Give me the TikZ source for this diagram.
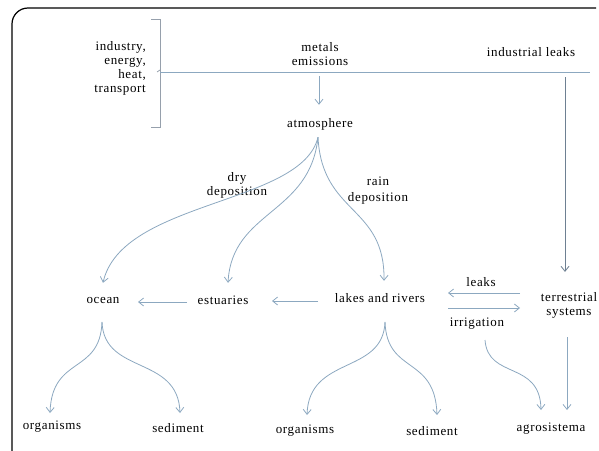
\documentclass[tikz,border=0pt]{standalone}
\usepackage{fontspec}
\setmainfont{Liberation Serif}[LetterSpace=5]
\usetikzlibrary{arrows.meta}
\definecolor{arrc}{RGB}{140,168,192}
\definecolor{darkc}{RGB}{110,128,146}
\definecolor{brkc}{RGB}{150,160,172}
\tikzset{
  lbl/.style={inner sep=2pt, text height=9pt, text depth=3pt, font=\fontsize{13}{14}\selectfont},
  mlbl/.style={inner sep=2pt, align=center, font=\fontsize{13}{14}\selectfont},
  arr/.style={draw=arrc, line width=0.8pt, -{Straight Barb[length=5pt,width=8pt]}},
  plain/.style={draw=arrc, line width=0.8pt},
}
\begin{document}
\begin{tikzpicture}[x=1pt,y=-1pt]
\useasboundingbox (0,0) rectangle (599,450);
% frame
\draw[line width=1.2pt, rounded corners=16pt] (28,466) -- (12,466) -- (12,8) -- (596,8);
% bracket
\draw[brkc, line width=0.8pt] (151,19) -- (160,19) -- (160,127) -- (151,127);
\draw[brkc, line width=0.8pt] (157,72) -- (160,70);
\coordinate (brk) at (160,72);
\coordinate (hend) at (590,72);
\draw[plain] (brk) -- (hend);
\node[mlbl, align=right, anchor=east] (src) at (148,68) {industry,\\energy,\\heat,\\transport};
% nodes
\node[mlbl] (metals) at (320,54) {metals\\emissions};
\node[lbl] (indl) at (531,53) {industrial leaks};
\node[lbl] (atm) at (320,124) {atmosphere};
\node[lbl] (ocean) at (103,300) {ocean};
\node[lbl] (est) at (223,301) {estuaries};
\node[lbl] (lakes) at (380,299) {lakes and rivers};
\node[mlbl] (terr) at (569,305) {terrestrial\\systems};
\node[lbl] (org1) at (52,426) {organisms};
\node[lbl] (sed1) at (178,429) {sediment};
\node[lbl] (org2) at (305,430) {organisms};
\node[lbl] (sed2) at (432,432) {sediment};
\node[lbl] (agro) at (551,428) {agrosistema};
\node[mlbl] (dry) at (237,185) {dry\\deposition};
\node[mlbl] (rain) at (378,191) {rain\\[2pt]deposition};
\node[lbl] (leaksl) at (481,283) {leaks};
\node[lbl] (irrl) at (477,323) {irrigation};
% connectors
\coordinate (ilt) at (565,77);
\draw[arr] ([xshift=-1pt,yshift=-8pt]metals.south) -- ([xshift=-1pt,yshift=11pt]atm.north);
\draw[arr, draw=darkc] (ilt) -- ([xshift=-4pt,yshift=18pt]terr.north);
\draw[arr] ([xshift=-2pt,yshift=-5pt]atm.south) .. controls (302,205) and (122,200) .. ([yshift=9pt]ocean.north);
\draw[arr] ([xshift=-2pt,yshift=-5pt]atm.south) .. controls (310,215) and (232,210) .. ([xshift=5pt,yshift=10pt]est.north);
\draw[arr] ([xshift=-2pt,yshift=-5pt]atm.south) .. controls (322,215) and (385,205) .. ([xshift=4pt,yshift=10pt]lakes.north);
\draw[arr] ([xshift=-36pt,yshift=-1pt]est.center) -- ([xshift=35pt,yshift=-2pt]ocean.center);
\draw[arr] ([xshift=-62pt,yshift=-2pt]lakes.center) -- ([xshift=49pt]est.center);
\draw[arr] ([xshift=-49pt,yshift=12pt]terr.center) -- ([xshift=68pt,yshift=6pt]lakes.center);
\draw[arr] ([xshift=68pt,yshift=-9pt]lakes.center) -- ([xshift=-49pt,yshift=-3pt]terr.center);
% ocean split
\draw[arr] ([xshift=-1pt,yshift=-22pt]ocean.center) .. controls (100,375) and (52,355) .. ([xshift=-2pt,yshift=13pt]org1.center);
\draw[arr] ([xshift=-1pt,yshift=-22pt]ocean.center) .. controls (104,375) and (178,355) .. ([xshift=2pt,yshift=16pt]sed1.center);
% lakes split
\draw[arr] ([xshift=5pt,yshift=-23pt]lakes.center) .. controls (383,375) and (309,355) .. ([xshift=2pt,yshift=15pt]org2.center);
\draw[arr] ([xshift=5pt,yshift=-23pt]lakes.center) .. controls (387,375) and (435,355) .. ([xshift=5pt,yshift=17pt]sed2.center);
% agro
\draw[arr] ([xshift=8pt,yshift=-17pt]irrl.center) .. controls (488,380) and (540,360) .. ([xshift=-10pt,yshift=18pt]agro.center);
\draw[arr] ([xshift=-2pt,yshift=-32pt]terr.center) -- ([xshift=16pt,yshift=18pt]agro.center);
\end{tikzpicture}
\end{document}
